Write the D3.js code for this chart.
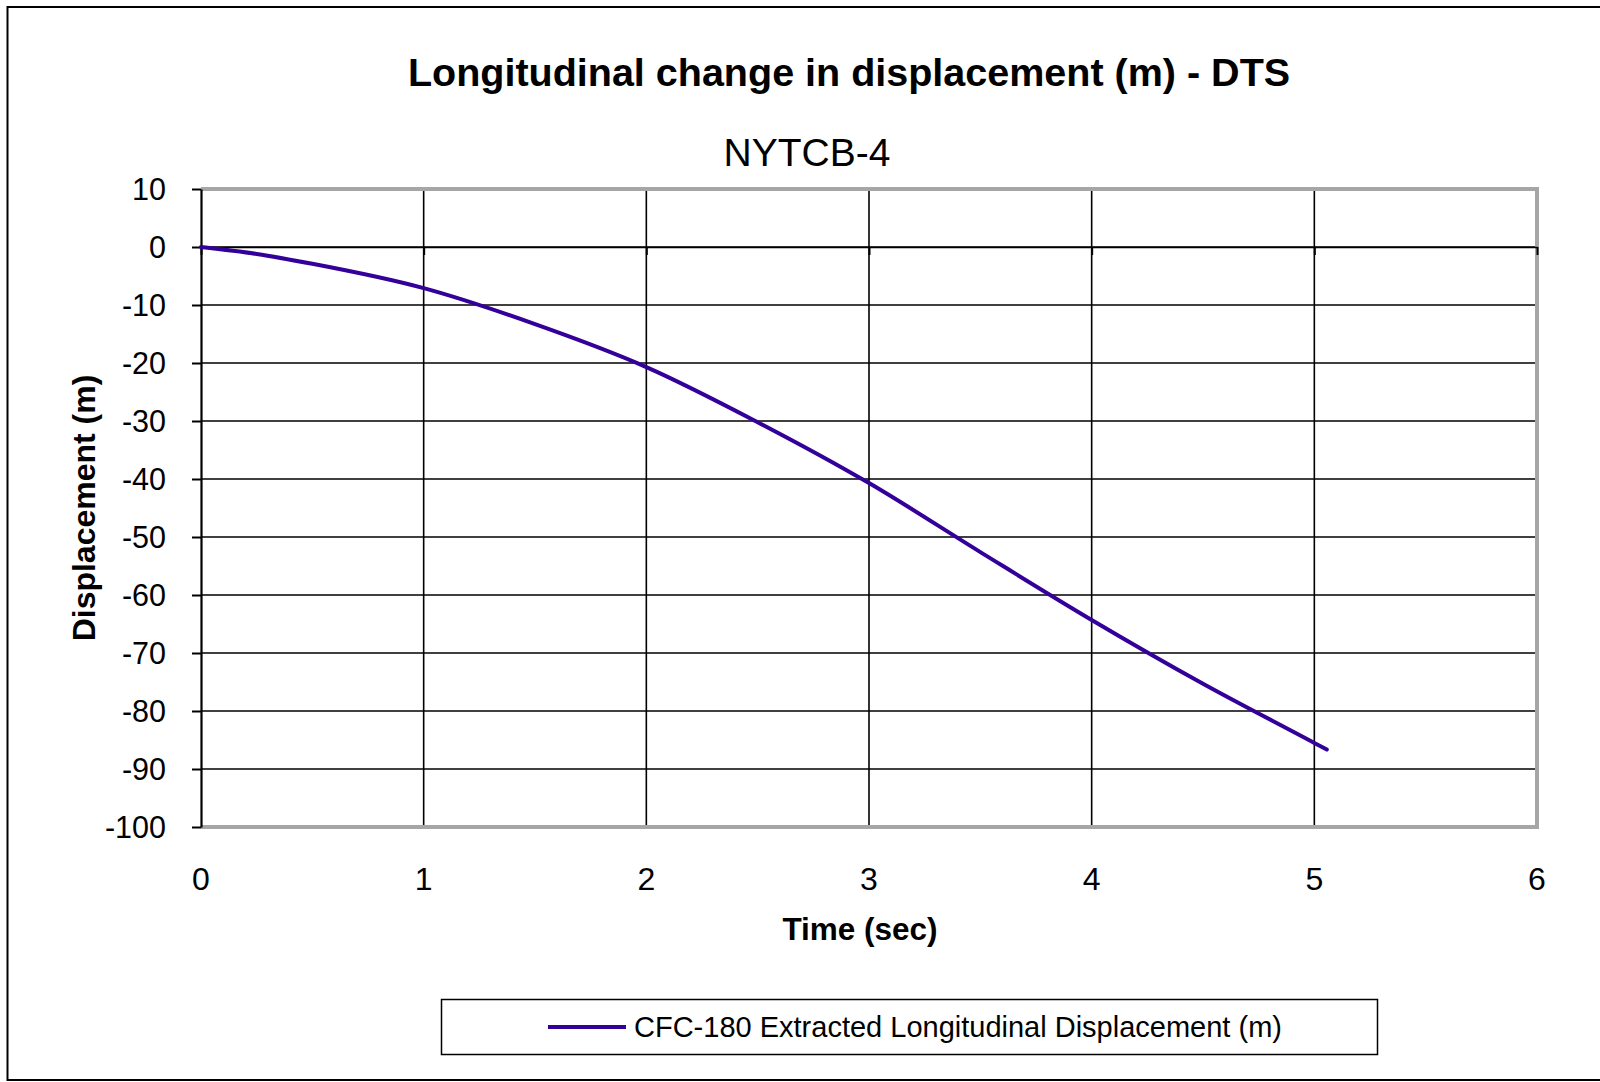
<!DOCTYPE html>
<html>
<head>
<meta charset="utf-8">
<script src="https://cdn.jsdelivr.net/npm/d3@7"></script>
<style>
  html, body { margin: 0; padding: 0; background: #fff; }
  svg { display: block; }
  text { font-family: "Liberation Sans", Arial, sans-serif; fill: #000; }
</style>
</head>
<body>
<svg id="chart" width="1600" height="1082"></svg>
<script>
// Time samples (sec) and extracted longitudinal displacement (m)
const timeSec = [0, 0.25, 0.5, 1.0, 1.5, 2.0, 2.5, 3.0, 3.5, 4.0, 4.5, 5.0, 5.056];
const displacement = [0, -1.2, -2.9, -7.1, -13.3, -20.7, -30.2, -40.7, -52.6, -64.3, -75.3, -85.5, -86.65];

const xTicks = [0, 1, 2, 3, 4, 5, 6];
const yTicks = [10, 0, -10, -20, -30, -40, -50, -60, -70, -80, -90, -100];

const titleText = "Longitudinal change in displacement (m) - DTS";
const subtitleText = "NYTCB-4";
const xTitle = "Time (sec)";
const yTitle = "Displacement (m)";
const seriesName = "CFC-180 Extracted Longitudinal Displacement (m)";
const seriesColor = "#330099";

const svg = d3.select("#chart");
const plot = { left: 201, right: 1537, top: 189, bottom: 827 };

const x = d3.scaleLinear().domain([0, 6]).range([plot.left, plot.right]);
const y = d3.scaleLinear().domain([-100, 10]).range([plot.bottom, plot.top]);

// Outer chart frame
svg.append("rect")
  .attr("x", 7.5).attr("y", 7)
  .attr("width", 1620).attr("height", 1073)
  .attr("fill", "none").attr("stroke", "#000").attr("stroke-width", 2);

// Titles
svg.append("text").attr("x", 849).attr("y", 86)
  .attr("text-anchor", "middle").attr("font-size", 39.5).attr("font-weight", "bold")
  .text(titleText);
svg.append("text").attr("x", 807).attr("y", 166)
  .attr("text-anchor", "middle").attr("font-size", 39)
  .text(subtitleText);

// Gridlines
svg.append("g").selectAll("line").data(yTicks.filter(d => d > -100 && d < 10)).join("line")
  .attr("x1", plot.left).attr("x2", plot.right)
  .attr("y1", d => y(d)).attr("y2", d => y(d))
  .attr("stroke", "#000").attr("stroke-width", 1.6);
svg.append("g").selectAll("line").data(xTicks.filter(d => d > 0 && d < 6)).join("line")
  .attr("x1", d => x(d)).attr("x2", d => x(d))
  .attr("y1", plot.top).attr("y2", plot.bottom)
  .attr("stroke", "#000").attr("stroke-width", 1.6);

// Plot area border (grey)
svg.append("path")
  .attr("d", `M${plot.left},${plot.top}H${plot.right}V${plot.bottom}H${plot.left}`)
  .attr("fill", "none").attr("stroke", "#a6a6a6").attr("stroke-width", 4);

// X axis crossing at y = 0, ticks pointing down
const xAxis = svg.append("g")
  .attr("transform", `translate(0,${y(0)})`)
  .call(d3.axisBottom(x).tickValues(xTicks).tickSize(8).tickSizeOuter(0).tickFormat(""));
xAxis.select(".domain").attr("stroke", "#000").attr("stroke-width", 1.6);
xAxis.selectAll(".tick line").attr("stroke", "#000").attr("stroke-width", 2);

// Y axis
const yAxis = svg.append("g")
  .attr("transform", `translate(${plot.left},0)`)
  .call(d3.axisLeft(y).tickValues(yTicks).tickSize(9).tickSizeOuter(0)
    .tickPadding(26).tickFormat(d => String(d)));
yAxis.select(".domain").attr("stroke", "#000").attr("stroke-width", 2.2);
yAxis.selectAll(".tick line").attr("stroke", "#000").attr("stroke-width", 2);
yAxis.selectAll(".tick text")
  .attr("font-family", "Liberation Sans, Arial, sans-serif")
  .attr("font-size", 30.5).attr("fill", "#000").attr("dy", "0.35em");

// X tick labels below the plot
svg.append("g").selectAll("text").data(xTicks).join("text")
  .attr("x", d => x(d)).attr("y", 890)
  .attr("text-anchor", "middle").attr("font-size", 32)
  .text(d => String(d));

// Axis titles
svg.append("text").attr("x", 860).attr("y", 940)
  .attr("text-anchor", "middle").attr("font-size", 31.5).attr("font-weight", "bold")
  .text(xTitle);
svg.append("text")
  .attr("transform", `translate(95,${(plot.top + plot.bottom) / 2}) rotate(-90)`)
  .attr("text-anchor", "middle").attr("font-size", 32).attr("font-weight", "bold")
  .text(yTitle);

// Data line
const pts = timeSec.map((t, i) => [t, displacement[i]]);
svg.append("path")
  .datum(pts)
  .attr("d", d3.line().x(d => x(d[0])).y(d => y(d[1])).curve(d3.curveMonotoneX))
  .attr("fill", "none").attr("stroke", seriesColor).attr("stroke-width", 4)
  .attr("stroke-linecap", "round").attr("stroke-linejoin", "round");

// Legend
const legend = svg.append("g");
legend.append("rect")
  .attr("x", 441.5).attr("y", 999.5).attr("width", 936).attr("height", 55)
  .attr("fill", "#fff").attr("stroke", "#000").attr("stroke-width", 1.5);
legend.append("line")
  .attr("x1", 548).attr("x2", 626).attr("y1", 1027).attr("y2", 1027)
  .attr("stroke", seriesColor).attr("stroke-width", 4);
legend.append("text")
  .attr("x", 634).attr("y", 1037).attr("font-size", 29)
  .text(seriesName);
</script>
</body>
</html>
